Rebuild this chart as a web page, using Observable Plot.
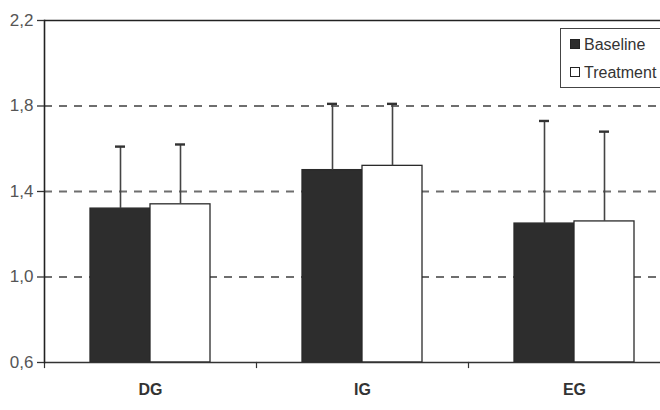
<!DOCTYPE html>
<html><head><meta charset="utf-8">
<script src="https://cdn.jsdelivr.net/npm/d3@7"></script>
<script src="https://cdn.jsdelivr.net/npm/@observablehq/plot@0.6"></script>
<style>
body{margin:0;background:#fff;}
#wrap{position:relative;width:660px;height:410px;overflow:hidden;background:#fff;font-family:Arial,"Liberation Sans",sans-serif;}
.legend{position:absolute;left:560px;top:28px;width:130px;height:58px;border:1.5px solid #444;background:#fff;box-sizing:content-box;}
.legend .row{position:absolute;left:9px;height:20px;line-height:20px;font-size:16px;color:#333;white-space:nowrap;}
.legend .sw{display:inline-block;width:8px;height:8px;border:1px solid #222;margin-right:4px;vertical-align:1px;}
</style></head><body><div id="wrap"></div>
<script>
const groups = ["DG", "IG", "EG"];
const series = ["Baseline", "Treatment"];
const seriesColors = ["#2d2d2d", "#ffffff"];
const baseline = [1.32, 1.50, 1.25];
const treatment = [1.34, 1.52, 1.26];
const baselineUpper = [1.61, 1.81, 1.73];
const treatmentUpper = [1.62, 1.81, 1.68];
const yTicks = [0.6, 1.0, 1.4, 1.8, 2.2];
const gridValues = [1.0, 1.4, 1.8];
const yMin = 0.6, yMax = 2.2;

const data = groups.flatMap((g, i) => [
  {group: g, series: "Baseline", value: baseline[i], upper: baselineUpper[i]},
  {group: g, series: "Treatment", value: treatment[i], upper: treatmentUpper[i]}
]);

const fmt = d => d.toFixed(1).replace(".", ",");

const chart = Plot.plot({
  width: 660, height: 410,
  marginTop: 20, marginBottom: 48, marginLeft: 44, marginRight: 0,
  style: {fontFamily: "Arial, 'Liberation Sans', sans-serif", fontSize: "12px", background: "transparent"},
  fx: {domain: groups, range: [44, 680], paddingInner: 0, paddingOuter: 0},
  x: {domain: series, range: [90, 210], paddingInner: 0, paddingOuter: 0, axis: null},
  y: {domain: [yMin, yMax]},
  color: {domain: series, range: seriesColors},
  marks: [
    Plot.ruleY(gridValues, {stroke: "#6e6e6e", strokeWidth: 1.8, strokeDasharray: "8,7"}),
    Plot.ruleY([yMax], {stroke: "#222", strokeWidth: 1.3}),
    Plot.barY(data, {fx: "group", x: "series", y1: yMin, y2: "value", fill: "series", stroke: "#2a2a2a", strokeWidth: 1.3}),
    Plot.ruleX(data, {fx: "group", x: "series", y1: "value", y2: "upper", stroke: "#444", strokeWidth: 1.6}),
    Plot.tickY(data, {fx: "group", x: "series", y: "upper", stroke: "#333", strokeWidth: 2.4, insetLeft: 25, insetRight: 25}),
    Plot.ruleY([yMin], {stroke: "#333", strokeWidth: 1.3}),
    Plot.frame({anchor: "left", insetTop: 342, insetBottom: -5, stroke: "#333", strokeWidth: 1.2}),
    Plot.frame({anchor: "left", facetAnchor: "left", stroke: "#222", strokeWidth: 1.6}),
    Plot.axisY({ticks: yTicks, tickFormat: fmt, tickSize: 7, tickPadding: 4, stroke: "#333", strokeWidth: 1.3, fill: "#555", fontSize: 17, label: null}),
    Plot.axisFx({anchor: "bottom", tickSize: 0, tickPadding: 21, fontWeight: "bold", fill: "#333", fontSize: 16, label: null})
  ]
});

const wrap = document.getElementById("wrap");
wrap.appendChild(chart);

const legend = document.createElement("div");
legend.className = "legend";
series.forEach((s, i) => {
  const row = document.createElement("div");
  row.className = "row";
  row.style.top = (6 + i * 28) + "px";
  const sw = document.createElement("span");
  sw.className = "sw";
  sw.style.background = seriesColors[i];
  row.appendChild(sw);
  row.appendChild(document.createTextNode(s));
  legend.appendChild(row);
});
wrap.appendChild(legend);
</script>
</body></html>
